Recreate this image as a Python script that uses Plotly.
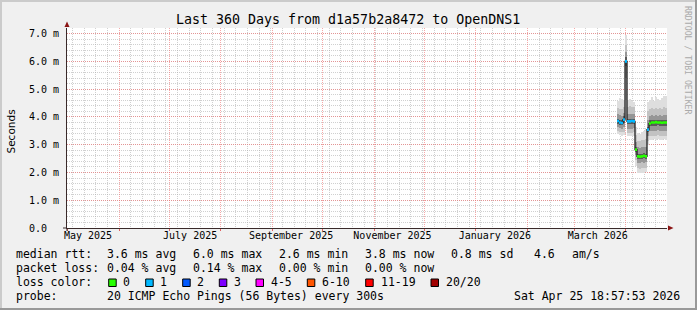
import plotly.graph_objects as go
import pandas as pd

# ---------------- data ----------------
title = "Last 360 Days from d1a57b2a8472 to OpenDNS1"
t_start = "2025-04-30 18:57:53"
t_end = "2026-04-25 18:57:53"

# one sample per ~1.2 days at the end of the period
times = pd.date_range("2026-03-27 09:20", periods=25, freq="1728min")

median = [3.85, 3.80, 3.78, 3.90, 6.00, 3.84, 3.84, 3.85, 3.84, 2.82,
          2.58, 2.57, 2.58, 2.60, 2.58, 3.54, 3.76, 3.80, 3.80, 3.81,
          3.80, 3.80, 3.79, 3.80, 3.80]
loss = [1, 1, 1, 1, 1, 1, 1, 1, 1, 0,
        0, 0, 0, 0, 0, 1, 0, 0, 0, 0,
        0, 0, 0, 0, 0]
p0 = [3.38, 3.34, 3.33, 3.36, 3.95, 3.30, 3.31, 3.30, 3.33, 2.25,
      1.98, 1.97, 1.99, 1.98, 2.00, 3.00, 3.18, 3.17, 3.19, 3.18,
      3.20, 3.18, 3.17, 3.19, 3.18]
p10 = [3.48, 3.45, 3.44, 3.47, 4.60, 3.42, 3.43, 3.42, 3.44, 2.45,
       2.15, 2.14, 2.16, 2.15, 2.17, 3.15, 3.32, 3.31, 3.33, 3.32,
       3.34, 3.32, 3.31, 3.33, 3.32]
p25 = [3.62, 3.60, 3.58, 3.62, 5.40, 3.58, 3.58, 3.57, 3.59, 2.62,
       2.35, 2.34, 2.36, 2.35, 2.37, 3.30, 3.50, 3.49, 3.51, 3.50,
       3.52, 3.50, 3.49, 3.51, 3.50]
p40 = [3.76, 3.72, 3.70, 3.78, 5.85, 3.74, 3.74, 3.75, 3.74, 2.75,
       2.50, 2.49, 2.50, 2.51, 2.50, 3.45, 3.68, 3.68, 3.69, 3.68,
       3.70, 3.68, 3.67, 3.69, 3.68]
p60 = [3.94, 3.90, 3.88, 4.02, 6.15, 3.92, 3.93, 3.94, 3.92, 2.92,
       2.68, 2.67, 2.68, 2.70, 2.68, 3.65, 3.88, 3.89, 3.88, 3.90,
       3.89, 3.88, 3.89, 3.88, 3.89]
p75 = [4.10, 4.06, 4.05, 4.15, 6.35, 4.10, 4.12, 4.11, 4.10, 3.10,
       2.90, 2.88, 2.91, 2.92, 2.93, 3.90, 4.05, 4.06, 4.04, 4.07,
       4.05, 4.06, 4.05, 4.07, 4.06]
p90 = [4.32, 4.30, 4.28, 4.36, 6.60, 4.35, 4.38, 4.36, 4.34, 3.35,
       3.15, 3.13, 3.16, 3.18, 3.20, 4.20, 4.30, 4.32, 4.28, 4.33,
       4.30, 4.31, 4.29, 4.34, 4.32]
p100 = [4.56, 4.68, 4.66, 4.62, 6.95, 4.60, 4.65, 4.58, 4.55, 3.62,
        3.42, 3.40, 3.44, 3.48, 3.58, 4.55, 4.62, 4.70, 4.58, 4.72,
        4.66, 4.60, 4.68, 4.74, 4.76]

y_ticks = [0, 1, 2, 3, 4, 5, 6, 7]
y_ticktext = ["0.0\u00a0\u00a0", "1.0 m", "2.0 m", "3.0 m", "4.0 m", "5.0 m", "6.0 m", "7.0 m"]

x_label_dates = ["2025-05-13 10:00", "2025-07-13 16:00", "2025-09-12 06:00",
                 "2025-11-12 02:00", "2026-01-12 12:00", "2026-03-15 06:00"]
x_label_text = ["May 2025", "July 2025", "September 2025",
                "November 2025", "January 2026", "March 2026"]

loss_names = ["0", "1", "2", "3", "4-5", "6-10", "11-19", "20/20"]
loss_colors = ["#26ff00", "#00b8ff", "#0059ff", "#7e00ff", "#ff00ff", "#ff5500", "#ff0000", "#a10000"]

rtt_stats = ["3.6 ms avg", "6.0 ms max", "2.6 ms min", "3.8 ms now", "0.8 ms sd", "4.6", "am/s"]
loss_stats = ["0.04 % avg", "0.14 % max", "0.00 % min", "0.00 % now"]
probe_text = "20 ICMP Echo Pings (56 Bytes) every 300s"
stamp_text = "Sat Apr 25 18:57:53 2026"

# ---------------- figure ----------------
MONO = "DejaVu Sans Mono"
L, R, T, B = 67, 30, 28, 82
W, H = 697, 310
PW, PH = W - L - R, H - T - B


def px(x):
    return (x - L) / PW


def py(y):
    return (H - B - y) / PH


def loss_idx(n):
    if n <= 3:
        return n
    if n <= 5:
        return 4
    if n <= 10:
        return 5
    if n <= 19:
        return 6
    return 7


col_td = pd.Timedelta(minutes=1728)
col_w = col_td.total_seconds() * 1000
fig = go.Figure()

bands = [(p0, p100, "#dedede"), (p10, p90, "#c2c2c2"), (p25, p75, "#969696"), (p40, p60, "#5a5a5a")]
for lo, hi, c in bands:
    fig.add_trace(go.Bar(x=times, base=lo, y=[h - l for l, h in zip(lo, hi)],
                         width=col_w, marker=dict(color=c, line=dict(width=0)),
                         hoverinfo="skip"))

fig.add_trace(go.Scatter(x=times, y=median, mode="lines",
                         line=dict(color="#202020", width=1.3, shape="hvh"),
                         hoverinfo="skip"))

# coloured median segments, one trace per loss class
for ci, c in enumerate(loss_colors):
    sx, sy = [], []
    for t, m, n in zip(times, median, loss):
        if loss_idx(n) == ci:
            sx += [t - col_td / 2, t + col_td / 2, None]
            sy += [m, m, None]
    if sx:
        fig.add_trace(go.Scatter(x=sx, y=sy, mode="lines", line=dict(color=c, width=2.6),
                                 hoverinfo="skip"))

# invisible helper trace so the label axis is drawn
fig.add_trace(go.Scatter(x=x_label_dates, y=[None] * len(x_label_dates), xaxis="x2",
                         mode="markers", hoverinfo="skip"))

grid_red = "rgba(240,110,110,0.6)"
grid_gray = "rgba(170,170,170,0.55)"
axis_col = "#3a2a2a"

fig.update_layout(
    width=W, height=H, margin=dict(l=L, r=R, t=T, b=B, pad=0),
    paper_bgcolor="#f0f0f0", plot_bgcolor="#ffffff",
    showlegend=False, barmode="overlay", bargap=0,
    font=dict(family=MONO, color="#000000"),
    xaxis=dict(type="date", range=[t_start, t_end], showticklabels=False,
               ticks="outside", ticklen=2, tickcolor="rgba(220,60,60,0.8)", tickwidth=1,
               dtick="M1", tick0="2025-05-01",
               showgrid=True, gridcolor=grid_red, griddash="1px,1px", gridwidth=1,
               minor=dict(dtick=7 * 86400000, tick0="2025-05-04", showgrid=True,
                          gridcolor=grid_gray, griddash="1px,1px", gridwidth=1),
               showline=True, linecolor=axis_col, linewidth=1, zeroline=False),
    xaxis2=dict(type="date", range=[t_start, t_end], overlaying="x", anchor="y", side="bottom",
                tickvals=x_label_dates, ticktext=x_label_text, ticks="",
                showgrid=False, showline=False, zeroline=False,
                tickfont=dict(family=MONO, size=10, color="#000000")),
    yaxis=dict(range=[0, 7.2], tickvals=y_ticks, ticktext=y_ticktext, ticks="",
               showgrid=True, gridcolor=grid_red, griddash="1px,1px", gridwidth=1,
               minor=dict(dtick=0.2, tick0=0, showgrid=True, gridcolor=grid_gray,
                          griddash="1px,1px", gridwidth=1),
               showline=True, linecolor=axis_col, linewidth=1, zeroline=False,
               tickfont=dict(family=MONO, size=10, color="#000000"), ticklabelstandoff=5),
)

ann = []


def text(s, x, y, size=11.5, anchor="left", **kw):
    ann.append(dict(text=s, x=px(x), y=py(y), xref="paper", yref="paper",
                    xanchor=anchor, yanchor="middle", showarrow=False,
                    font=dict(family=MONO, size=size, color=kw.pop("color", "#000000")),
                    borderpad=0, borderwidth=0, **kw))


text(title, 347.7, 19, size=13.3, anchor="center")
ann.append(dict(text="Seconds", x=px(10.5), y=py(132), xref="paper", yref="paper",
                xanchor="center", yanchor="middle", showarrow=False, textangle=-90,
                font=dict(family="DejaVu Sans", size=10.5, color="#000000")))
text("RRDTOOL / TOBI OETIKER", 688, 60, size=8.2, anchor="center", color="#aaaaaa", textangle=90)

rows = [254.3, 268.3, 282, 296]
text("median rtt:", 16, rows[0])
for s, x in zip(rtt_stats, [107.3, 193.3, 279.3, 365, 451, 534.3, 572.3]):
    text(s, x, rows[0])
text("packet loss:", 16, rows[1])
for s, x in zip(loss_stats, [107.3, 193.3, 279.3, 365]):
    text(s, x, rows[1])
text("loss color:", 16, rows[2])
box_x = [108.7, 145.7, 182.7, 219.3, 256, 307.3, 365.7, 431]
lab_x = [123.3, 160.3, 197.3, 234, 271, 322, 380.7, 445.7]
shapes = []
for name, c, bx, lx in zip(loss_names, loss_colors, box_x, lab_x):
    shapes.append(dict(type="rect", xref="paper", yref="paper",
                       x0=px(bx), x1=px(bx + 7.5), y0=py(279), y1=py(286.5),
                       fillcolor=c, line=dict(color="#000000", width=1)))
    text(name, lx, rows[2])
text("probe:", 16, rows[3])
text(probe_text, 107.3, rows[3])
text(stamp_text, 680, rows[3], anchor="right")

# arrows at axis ends and small axis overhangs
arrow_col = "#8b1414"
shapes.append(dict(type="path", xref="paper", yref="paper", xsizemode="pixel", ysizemode="pixel",
                   xanchor=0, yanchor=1, path="M -2.5,1 L 2.5,1 L 0,6.5 Z",
                   fillcolor=arrow_col, line=dict(width=0)))
shapes.append(dict(type="path", xref="paper", yref="paper", xsizemode="pixel", ysizemode="pixel",
                   xanchor=1, yanchor=0, path="M 1,-2.5 L 1,2.5 L 6.5,0 Z",
                   fillcolor=arrow_col, line=dict(width=0)))
shapes.append(dict(type="line", xref="paper", yref="paper", x0=px(63), x1=px(67), y0=0, y1=0,
                   line=dict(color=axis_col, width=1)))
shapes.append(dict(type="line", xref="paper", yref="paper", x0=0, x1=0, y0=py(231), y1=0,
                   line=dict(color=axis_col, width=1)))
# frame shading
shapes.append(dict(type="rect", xref="paper", yref="paper", x0=px(0), x1=px(W), y0=py(0), y1=py(2),
                   fillcolor="#cbcbcb", line=dict(width=0), layer="above"))
shapes.append(dict(type="rect", xref="paper", yref="paper", x0=px(0), x1=px(2), y0=py(0), y1=py(H),
                   fillcolor="#cbcbcb", line=dict(width=0), layer="above"))
shapes.append(dict(type="rect", xref="paper", yref="paper", x0=px(0), x1=px(W), y0=py(H - 2), y1=py(H),
                   fillcolor="#999999", line=dict(width=0), layer="above"))
shapes.append(dict(type="rect", xref="paper", yref="paper", x0=px(W - 2), x1=px(W), y0=py(0), y1=py(H),
                   fillcolor="#999999", line=dict(width=0), layer="above"))

fig.update_layout(annotations=ann, shapes=shapes)
fig.write_html("out.html")
